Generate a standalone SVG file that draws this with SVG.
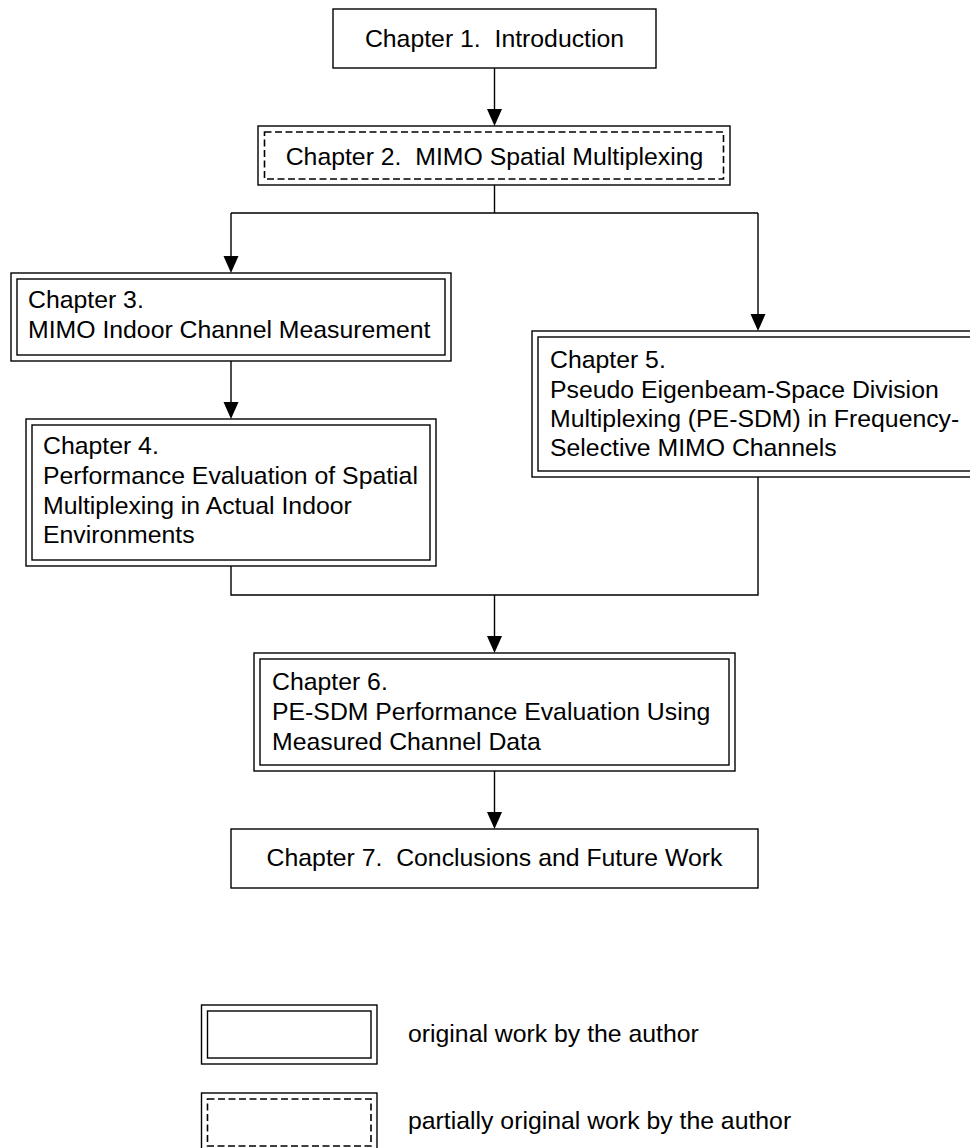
<svg xmlns="http://www.w3.org/2000/svg" width="970" height="1148" viewBox="0 0 970 1148">
<defs>
<style>
.b{fill:none;stroke:#000;stroke-width:1.4}
.d{fill:none;stroke:#000;stroke-width:1.6;stroke-dasharray:7,3.5}
.c{fill:none;stroke:#000;stroke-width:1.4}
.h{fill:#000;stroke:none}
text{font-family:"Liberation Sans",Arial,sans-serif;font-size:24.8px;fill:#000}
.m{text-anchor:middle}
</style>
</defs>
<rect width="970" height="1148" fill="#fff"/>
<g id="connectors">
<path class="c" d="M494.5,68 V110"/>
<path class="h" d="M487,109 L502,109 L494.5,126 Z"/>
<path class="c" d="M494.5,185 V213 M231,213 H758 M231,213 V257 M758,213 V315"/>
<path class="h" d="M223.5,256 L238.5,256 L231,273 Z"/>
<path class="h" d="M750.5,314 L765.5,314 L758,331 Z"/>
<path class="c" d="M231,361 V403"/>
<path class="h" d="M223.5,402 L238.5,402 L231,419 Z"/>
<path class="c" d="M231,566 V595 H758 V477 M494.5,595 V637"/>
<path class="h" d="M487,636 L502,636 L494.5,653 Z"/>
<path class="c" d="M494.5,771 V813"/>
<path class="h" d="M487,812 L502,812 L494.5,829 Z"/>
</g>
<g id="ch1">
<rect class="b" x="333" y="9" width="323" height="59"/>
<text class="m" x="494.5" y="47" xml:space="preserve">Chapter 1.  Introduction</text>
</g>
<g id="ch2">
<rect class="b" x="258" y="126" width="472" height="59"/>
<rect class="d" x="264.5" y="132" width="459" height="47"/>
<text class="m" x="494.5" y="165" xml:space="preserve">Chapter 2.  MIMO Spatial Multiplexing</text>
</g>
<g id="ch3">
<rect class="b" x="11" y="273" width="440" height="88"/>
<rect class="b" x="17" y="279" width="428" height="76"/>
<text x="28" y="308">Chapter 3.</text>
<text x="28" y="338">MIMO Indoor Channel Measurement</text>
</g>
<g id="ch4">
<rect class="b" x="26" y="419" width="410" height="147"/>
<rect class="b" x="32" y="425" width="398" height="135"/>
<text x="43" y="454">Chapter 4.</text>
<text x="43" y="484">Performance Evaluation of Spatial</text>
<text x="43" y="514">Multiplexing in Actual Indoor</text>
<text x="43" y="543">Environments</text>
</g>
<g id="ch5">
<rect class="b" x="532" y="331" width="452" height="146"/>
<rect class="b" x="538" y="337" width="440" height="134"/>
<text x="550" y="368">Chapter 5.</text>
<text x="550" y="397.5">Pseudo Eigenbeam-Space Division</text>
<text x="550" y="427">Multiplexing (PE-SDM) in Frequency-</text>
<text x="550" y="456">Selective MIMO Channels</text>
</g>
<g id="ch6">
<rect class="b" x="254" y="653" width="481" height="118"/>
<rect class="b" x="260" y="659" width="469" height="106"/>
<text x="272" y="690">Chapter 6.</text>
<text x="272" y="720">PE-SDM Performance Evaluation Using</text>
<text x="272" y="750">Measured Channel Data</text>
</g>
<g id="ch7">
<rect class="b" x="231" y="829" width="527" height="59"/>
<text class="m" x="494.5" y="866" xml:space="preserve">Chapter 7.  Conclusions and Future Work</text>
</g>
<g id="legend-original">
<rect class="b" x="201.5" y="1005" width="175.5" height="59"/>
<rect class="b" x="207.5" y="1011" width="163.5" height="47"/>
<text x="408" y="1042">original work by the author</text>
</g>
<g id="legend-partial">
<rect class="b" x="201.5" y="1093" width="175.5" height="59"/>
<rect class="d" x="207.5" y="1099" width="163.5" height="47"/>
<text x="408" y="1129">partially original work by the author</text>
</g>
</svg>
